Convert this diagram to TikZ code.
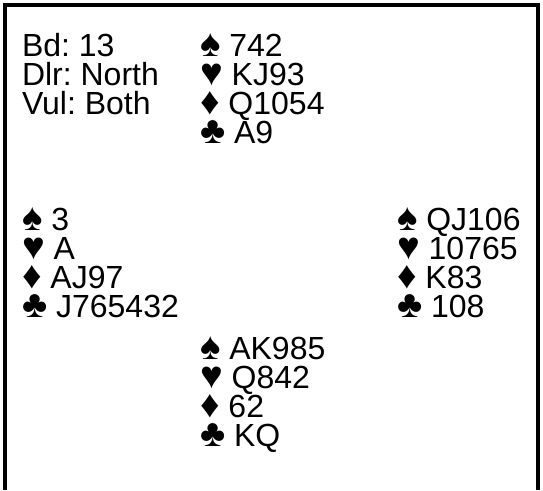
\documentclass[tikz,border=0pt]{standalone}
\usepackage{fontspec}
\setmainfont{Liberation Sans}
\usetikzlibrary{positioning}

\newcommand{\cS}{\scalebox{1.2}{♠}}
\newcommand{\cH}{\scalebox{1.2}{♥}}
\newcommand{\cD}{\scalebox{1.2}{♦}}
\newcommand{\cC}{\scalebox{1.2}{♣}}

\begin{document}
\frenchspacing
\begin{tikzpicture}[
	x=1pt, y=1pt,
	font=\fontsize{32}{29}\selectfont,
	frame/.style={line width=4pt,black},
	line/.style={anchor=base west,inner sep=0pt,outer sep=0pt}
	]
	\useasboundingbox (0,0) rectangle (543,-490);
	
	% frame, open at the bottom
	\draw[frame] (5,-490) -- (5,-5) -- (538,-5) -- (538,-490);
	
	% board info
	\foreach \txt [count=\i from 0] in {Bd: 13, Dlr: North, Vul: Both}{
		\node[line] (info\i) at (22,-56-29*\i) {\txt};
	}
	
	% North
	\foreach \txt [count=\i from 0] in {\cS\ 742, \cH\ KJ93, \cD\ Q1054, \cC\ A9}{
		\node[line] (N\i) at (200,-56-29*\i) {\txt};
	}
	% West
	\foreach \txt [count=\i from 0] in {\cS\ 3, \cH\ A, \cD\ AJ97, \cC\ J765432}{
		\node[line] (W\i) at (22,-230-29*\i) {\txt};
	}
	% East
	\foreach \txt [count=\i from 0] in {\cS\ QJ106, \cH\ 10765, \cD\ K83, \cC\ 108}{
		\node[line] (E\i) at (397,-230-29*\i) {\txt};
	}
	% South
	\foreach \txt [count=\i from 0] in {\cS\ AK985, \cH\ Q842, \cD\ 62, \cC\ KQ}{
		\node[line] (S\i) at (200,-359-29*\i) {\txt};
	}
\end{tikzpicture}
\end{document}
